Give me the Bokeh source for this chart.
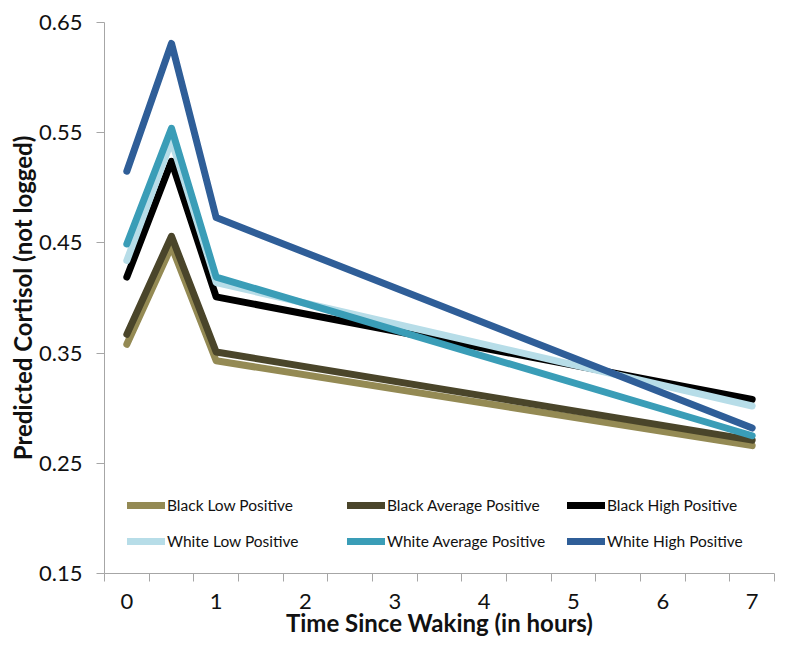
from bokeh.plotting import figure
from bokeh.models import Range1d, FixedTicker, Legend, LegendItem
from bokeh.embed import file_html
from bokeh.resources import INLINE

# ---- data ----
hours = [0, 0.5, 1, 7]
series_names = ["Black Low Positive", "Black Average Positive", "Black High Positive",
                "White Low Positive", "White Average Positive", "White High Positive"]
black_low = [0.358, 0.447, 0.343, 0.266]
black_avg = [0.367, 0.456, 0.351, 0.271]
black_high = [0.419, 0.524, 0.401, 0.308]
white_low = [0.434, 0.543, 0.414, 0.302]
white_avg = [0.449, 0.554, 0.419, 0.275]
white_high = [0.515, 0.631, 0.473, 0.282]
series_values = [black_low, black_avg, black_high, white_low, white_avg, white_high]
colors = ["#948A54", "#4A452A", "#000000", "#B7DDE8", "#3A9DB7", "#2F5E98"]

x_tick_values = [0, 1, 2, 3, 4, 5, 6, 7]
x_minor_ticks = [-0.25, 0.25, 0.75, 1.25, 1.75, 2.25, 2.75, 3.25, 3.75, 4.25, 4.75,
                 5.25, 5.75, 6.25, 6.75, 7.25]
y_tick_values = [0.15, 0.25, 0.35, 0.45, 0.55, 0.65]
y_tick_labels = ["0.15", "0.25", "0.35", "0.45", "0.55", "0.65"]
x_title = "Time Since Waking (in hours)"
y_title = "Predicted Cortisol (not logged)"

FONT = "Lato"
TXT = "#111111"
AXC = "#A6A6A6"

p = figure(width=775, height=639, output_backend="svg", toolbar_location=None,
           x_range=Range1d(-0.25, 7.25), y_range=Range1d(0.15, 0.65),
           min_border_left=104, min_border_right=1, min_border_top=22, min_border_bottom=64)
p.outline_line_color = None
p.grid.visible = False
p.background_fill_color = "white"
p.border_fill_color = "white"

items = []
for name, vals, col in zip(series_names, series_values, colors):
    r = p.line(hours, vals, line_color=col, line_width=7, line_join="round", line_cap="round")
    items.append(LegendItem(label=name, renderers=[r]))

# x axis
xa = p.xaxis[0]
xa.ticker = FixedTicker(ticks=x_tick_values, minor_ticks=x_minor_ticks)
xa.major_tick_line_color = None
xa.major_tick_out = 0
xa.major_tick_in = 0
xa.minor_tick_line_color = AXC
xa.minor_tick_out = 8
xa.minor_tick_in = 0
xa.axis_line_color = AXC
xa.major_label_text_font = FONT
xa.major_label_text_font_size = "22px"
xa.major_label_text_color = TXT
xa.major_label_standoff = 12
xa.axis_label = x_title
xa.axis_label_text_font = FONT
xa.axis_label_text_font_size = "24px"
xa.axis_label_text_font_style = "bold"
xa.axis_label_text_color = TXT
xa.axis_label_standoff = -4

# y axis
ya = p.yaxis[0]
ya.ticker = FixedTicker(ticks=y_tick_values)
ya.major_label_overrides = {v: s for v, s in zip(y_tick_values, y_tick_labels)}
ya.minor_tick_line_color = None
ya.major_tick_line_color = AXC
ya.major_tick_out = 8
ya.major_tick_in = 0
ya.axis_line_color = AXC
ya.major_label_text_font = FONT
ya.major_label_text_font_size = "22px"
ya.major_label_text_color = TXT
ya.major_label_standoff = 14
ya.axis_label = y_title
ya.axis_label_text_font = FONT
ya.axis_label_text_font_size = "24px"
ya.axis_label_text_font_style = "bold"
ya.axis_label_text_color = TXT
ya.axis_label_standoff = -1

legend = Legend(items=items, ncols=3, orientation="horizontal",
                location=(23, 22), glyph_width=38, glyph_height=20,
                label_standoff=2, spacing=16, padding=0, margin=0,
                border_line_color=None, background_fill_alpha=0,
                label_text_font=FONT, label_text_font_size="15.5px",
                label_text_color=TXT, label_height=20, label_width=164)
p.add_layout(legend, "center")

open("out.html", "w").write(file_html(p, INLINE))
